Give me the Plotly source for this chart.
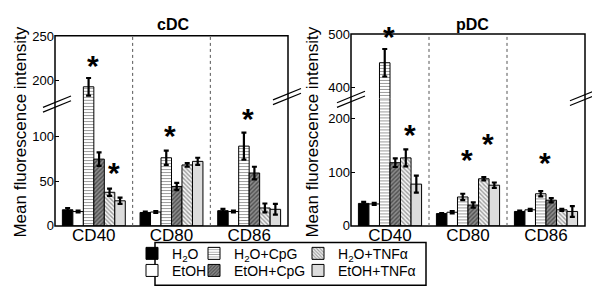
import plotly.graph_objects as go

W, H = 600, 288

# ---------------- data ----------------
categories = ["CD40", "CD80", "CD86"]
series_names = ["H<sub>2</sub>O", "EtOH", "H<sub>2</sub>O+CpG", "EtOH+CpG",
                "H<sub>2</sub>O+TNFα", "EtOH+TNFα"]

# cDC (mean, error)
cdc_h2o = [18, 15, 17]
cdc_h2o_err = [2, 1, 2]
cdc_etoh = [16, 15.5, 16]
cdc_etoh_err = [1, 1, 1]
cdc_h2o_cpg = [193, 76, 89]
cdc_h2o_cpg_err = [10, 8, 15]
cdc_etoh_cpg = [74.5, 44, 59]
cdc_etoh_cpg_err = [7.5, 4, 7]
cdc_h2o_tnf = [37.5, 68, 20]
cdc_h2o_tnf_err = [4, 2, 5]
cdc_etoh_tnf = [28, 72, 18.5]
cdc_etoh_tnf_err = [3.5, 4, 6]

# pDC (mean, error)
pdc_h2o = [42, 23, 27]
pdc_h2o_err = [3, 1, 1.5]
pdc_etoh = [41, 25.5, 30]
pdc_etoh_err = [2, 2, 2]
pdc_h2o_cpg = [446, 54, 60]
pdc_h2o_cpg_err = [26, 6, 5]
pdc_etoh_cpg = [118, 39, 48]
pdc_etoh_cpg_err = [8, 5, 4]
pdc_h2o_tnf = [127, 88, 30]
pdc_h2o_tnf_err = [16, 3, 2]
pdc_etoh_tnf = [78, 76, 27]
pdc_etoh_tnf_err = [16, 5, 10]

# significance stars: category index, series index, height
cdc_star_cat = [0, 0, 1, 2]
cdc_star_series = [2, 4, 2, 2]
cdc_star_y = [209, 52, 93, 112]
pdc_star_cat = [0, 0, 1, 1, 2]
pdc_star_series = [2, 4, 2, 4, 2]
pdc_star_y = [483, 158, 110, 141, 105]

# axis ticks (lower / upper part of the broken axes)
cdc_ticks_low = [0, 50, 100]
cdc_ticks_high = [200, 250]
pdc_ticks_low = [0, 100, 200]
pdc_ticks_high = [400, 500]

# ---------------- styles ----------------
FONT = "Liberation Sans, Arial, Helvetica, sans-serif"
BARGAP = 0.19
styles = [
    dict(color="black"),
    dict(color="white"),
    dict(color="white", pattern=dict(shape="-", fgcolor="#222", size=3, solidity=0.3, fillmode="overlay")),
    dict(color="#8c8c8c", pattern=dict(shape="/", fgcolor="#111", size=3, solidity=0.45, fillmode="overlay")),
    dict(color="#f4f4f4", pattern=dict(shape="\\", fgcolor="#444", size=3, solidity=0.45, fillmode="overlay")),
    dict(color="#dcdcdc"),
]


def px(x):
    return x / W


def py(y):
    return 1 - y / H


panels = [
    dict(name="cDC", x0=47, x1=280, top=22, brk=95, bottom=222.5,
         low=[0, 134.8], high=[172.2, 251],
         ticks_low=cdc_ticks_low, ticks_high=cdc_ticks_high,
         values=[cdc_h2o, cdc_etoh, cdc_h2o_cpg, cdc_etoh_cpg, cdc_h2o_tnf, cdc_etoh_tnf],
         errors=[cdc_h2o_err, cdc_etoh_err, cdc_h2o_cpg_err, cdc_etoh_cpg_err, cdc_h2o_tnf_err, cdc_etoh_tnf_err],
         stars=(cdc_star_cat, cdc_star_series, cdc_star_y),
         title_x=165, ytitle_x=13,
         breaks=[(49, 94), (279, 86)]),
    dict(name="pDC", x0=343, x1=577, top=20, brk=88, bottom=222.5,
         low=[0, 238], high=[378.5, 500.5],
         ticks_low=pdc_ticks_low, ticks_high=pdc_ticks_high,
         values=[pdc_h2o, pdc_etoh, pdc_h2o_cpg, pdc_etoh_cpg, pdc_h2o_tnf, pdc_etoh_tnf],
         errors=[pdc_h2o_err, pdc_etoh_err, pdc_h2o_cpg_err, pdc_etoh_cpg_err, pdc_h2o_tnf_err, pdc_etoh_tnf_err],
         stars=(pdc_star_cat, pdc_star_series, pdc_star_y),
         title_x=464, ytitle_x=305,
         breaks=[(343, 89), (576, 87)]),
]

fig = go.Figure()
layout = dict(
    width=W, height=H, margin=dict(l=0, r=0, t=0, b=0),
    paper_bgcolor="white", plot_bgcolor="rgba(0,0,0,0)",
    barmode="group", bargap=BARGAP, bargroupgap=0,
    font=dict(family=FONT, color="black", size=13),
    showlegend=True,
)
shapes = []
annotations = []

cat_idx = list(range(len(categories)))
legend_ids = ["legend", "legend2", "legend3", "legend4", "legend5", "legend6"]
bar_w = (1 - BARGAP) / len(series_names)

for p_i, p in enumerate(panels):
    xa = "x" if p_i == 0 else f"x{p_i + 1}"
    ylow_n = 2 * p_i + 1
    yhigh_n = 2 * p_i + 2
    ylow = "y" if ylow_n == 1 else f"y{ylow_n}"
    yhigh = f"y{yhigh_n}"
    xkey = "xaxis" if p_i == 0 else f"xaxis{p_i + 1}"
    ylowkey = "yaxis" if ylow_n == 1 else f"yaxis{ylow_n}"
    yhighkey = f"yaxis{yhigh_n}"

    dom_x = [px(p["x0"]), px(p["x1"])]
    layout[xkey] = dict(domain=dom_x, anchor=ylow, range=[-0.5, 2.5],
                        tickvals=cat_idx, ticktext=categories, showline=False,
                        showgrid=False, zeroline=False, ticks="",
                        ticklabelstandoff=-3,
                        tickfont=dict(size=17), fixedrange=True)
    layout[ylowkey] = dict(domain=[py(p["bottom"]), py(p["brk"])], anchor=xa,
                           range=p["low"], tickvals=p["ticks_low"], showgrid=False,
                           zeroline=False, showline=False, ticks="inside", ticklen=4,
                           tickcolor="black", tickfont=dict(size=13))
    layout[yhighkey] = dict(domain=[py(p["brk"]), py(p["top"])], anchor=xa,
                            range=p["high"], tickvals=p["ticks_high"], showgrid=False,
                            zeroline=False, showline=False, ticks="inside", ticklen=4,
                            tickcolor="black", tickfont=dict(size=13))

    for s_i, name in enumerate(series_names):
        for ya, show in ((ylow, p_i == 0), (yhigh, False)):
            fig.add_trace(go.Bar(
                x=cat_idx, y=p["values"][s_i], name=name,
                xaxis=xa, yaxis=ya, offsetgroup=str(s_i),
                marker=dict(line=dict(color="black", width=1), **styles[s_i]),
                error_y=dict(type="data", array=p["errors"][s_i], color="black",
                             thickness=2.2, width=2.5),
                showlegend=show, legend=legend_ids[s_i], hoverinfo="skip",
            ))

    # frame
    shapes.append(dict(type="rect", xref="paper", yref="paper",
                       x0=px(p["x0"]), x1=px(p["x1"]), y0=py(p["bottom"]), y1=py(p["top"]),
                       line=dict(color="black", width=1.5), layer="above"))
    # dotted category separators
    for sep in (0.5, 1.5):
        shapes.append(dict(type="line", xref=xa, yref="paper", x0=sep, x1=sep,
                           y0=py(p["bottom"]), y1=py(p["top"]),
                           line=dict(color="#555", width=1, dash="dot")))
    # axis break marks
    for (cx, cy) in p["breaks"]:
        for dy in (-2.5, 2.5):
            shapes.append(dict(type="line", xref="paper", yref="paper",
                               x0=px(cx - 14), y0=py(cy + 6 + dy),
                               x1=px(cx + 14), y1=py(cy - 6 + dy),
                               line=dict(color="black", width=1.2)))
    # panel title
    annotations.append(dict(text="<b>%s</b>" % p["name"], xref="paper", yref="paper",
                            x=px(p["title_x"]), y=py(10), showarrow=False,
                            font=dict(size=16), xanchor="center", yanchor="middle"))
    # y title
    annotations.append(dict(text="Mean fluorescence intensity", xref="paper", yref="paper",
                            x=px(p["ytitle_x"]), y=py(124), textangle=-90, showarrow=False,
                            font=dict(size=17), xanchor="center", yanchor="middle"))
    # stars
    sc, ss, sy = p["stars"]
    for c, s, yv in zip(sc, ss, sy):
        yref = ylow if yv <= p["low"][1] else yhigh
        annotations.append(dict(text="<b>*</b>", x=c + (s - 2.5) * bar_w, y=yv,
                                xref=xa, yref=yref, showarrow=False,
                                xshift=4, yshift=7, xanchor="center", yanchor="middle",
                                font=dict(size=30, family=FONT)))

# legend: one small legend per entry, 3 columns x 2 rows
leg_sym_x = [152, 152, 214, 214, 318, 318]
leg_row_y = [253, 271, 253, 271, 253, 271]
for i, lid in enumerate(legend_ids):
    layout[lid] = dict(x=px(leg_sym_x[i] - 28), y=py(leg_row_y[i] - 18),
                       xanchor="left", yanchor="top",
                       orientation="v", bgcolor="rgba(0,0,0,0)", borderwidth=0,
                       font=dict(size=14), itemwidth=30, tracegroupgap=0)
shapes.append(dict(type="rect", xref="paper", yref="paper",
                   x0=px(147), x1=px(418), y0=py(285), y1=py(240),
                   line=dict(color="black", width=1.5)))

layout["shapes"] = shapes
layout["annotations"] = annotations
fig.update_layout(**layout)
fig.write_html("out.html")
